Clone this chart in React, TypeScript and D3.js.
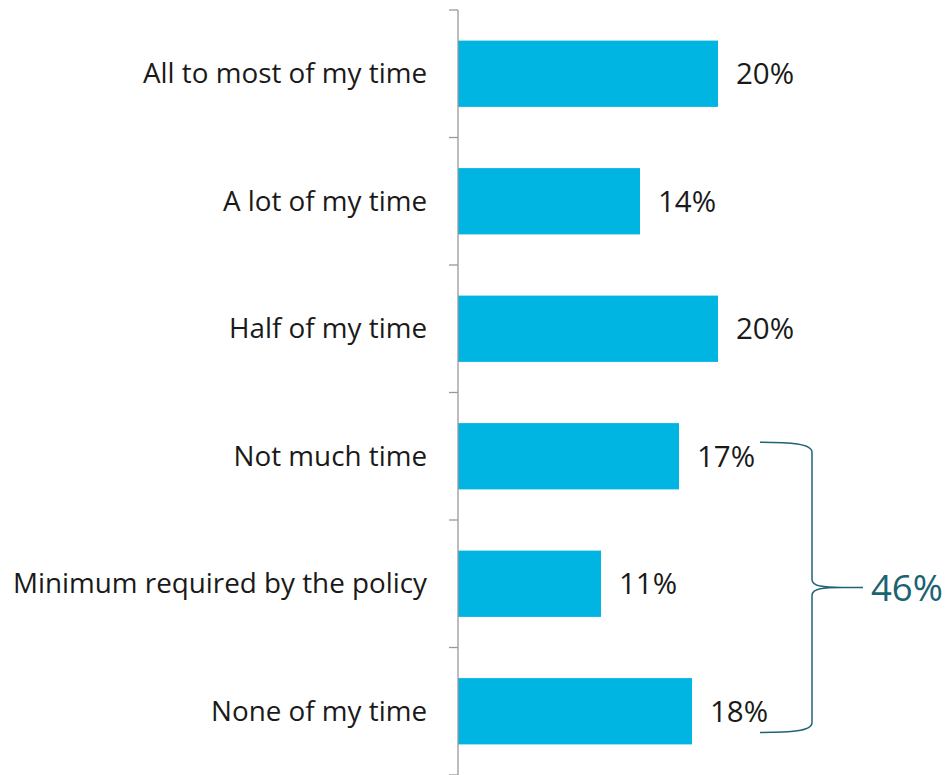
import React, { useEffect, useRef } from "react";
import * as d3 from "d3";

const categories = [
  "All to most of my time",
  "A lot of my time",
  "Half of my time",
  "Not much time",
  "Minimum required by the policy",
  "None of my time",
];
const values = [20, 14, 20, 17, 11, 18];
const bracketLabel = "46%";
const bracketFrom = "Not much time";
const bracketTo = "None of my time";

const App = () => {
  const svgRef = useRef(null);
  const width = 946;
  const height = 775;
  const axisX = 458;
  const font = "'Open Sans', sans-serif";

  useEffect(() => {
    const svgEl = d3.select(svgRef.current);
    svgEl.selectAll("*").remove();

    const data = categories.map((c, i) => ({ cat: c, value: values[i] }));

    const y = d3
      .scaleBand()
      .domain(categories)
      .range([10, 775])
      .paddingInner(0.48)
      .paddingOuter(0.24);

    // 13px per percentage point
    const x = d3.scaleLinear().domain([0, 20]).range([axisX, axisX + 260]);

    svgEl
      .append("g")
      .attr("fill", "#00B5E2")
      .selectAll("rect")
      .data(data)
      .join("rect")
      .attr("x", x(0))
      .attr("y", (d) => y(d.cat))
      .attr("width", (d) => x(d.value) - x(0))
      .attr("height", y.bandwidth());

    // axis line with ticks at band boundaries
    const step = y.step();
    const first = y(categories[0]) - (step - y.bandwidth()) / 2;
    const bounds = d3.range(categories.length + 1).map((i) => first + i * step);
    const axis = svgEl.append("g").attr("stroke", "#999").attr("stroke-width", 1.3);
    axis
      .append("line")
      .attr("x1", axisX)
      .attr("x2", axisX)
      .attr("y1", bounds[0])
      .attr("y2", height);
    axis
      .selectAll("line.tick")
      .data(bounds)
      .join("line")
      .attr("class", "tick")
      .attr("x1", axisX - 9)
      .attr("x2", axisX)
      .attr("y1", (d) => d)
      .attr("y2", (d) => d);

    svgEl
      .append("g")
      .attr("font-family", font)
      .attr("font-size", 27.8)
      .attr("fill", "#1a1a1a")
      .attr("text-anchor", "end")
      .selectAll("text")
      .data(data)
      .join("text")
      .attr("x", axisX - 31)
      .attr("y", (d) => y(d.cat) + y.bandwidth() / 2)
      .attr("dy", "0.35em")
      .text((d) => d.cat);

    svgEl
      .append("g")
      .attr("font-family", font)
      .attr("font-size", 29.5)
      .attr("fill", "#1a1a1a")
      .selectAll("text")
      .data(data)
      .join("text")
      .attr("x", (d) => x(d.value) + 18)
      .attr("y", (d) => y(d.cat) + y.bandwidth() / 2)
      .attr("dy", "0.35em")
      .text((d) => d.value + "%");

    // bracket
    const top = y(bracketFrom) + y.bandwidth() * 0.29;
    const bot = y(bracketTo) + y.bandwidth() * 0.82;
    const mid = (top + bot) / 2;
    const x0 = 760;
    const xb = 812;
    const xp = 863;
    const path = [
      `M${x0},${top}`,
      `C${x0 + 30},${top} ${xb},${top + 1} ${xb},${top + 10}`,
      `V${mid - 8}`,
      `C${xb},${mid - 1} ${xb + 12},${mid} ${xb + 30},${mid}`,
      `H${xp}`,
      `M${xb + 30},${mid}`,
      `C${xb + 12},${mid} ${xb},${mid + 1} ${xb},${mid + 8}`,
      `V${bot - 10}`,
      `C${xb},${bot - 1} ${x0 + 30},${bot} ${x0},${bot}`,
    ].join(" ");
    svgEl
      .append("path")
      .attr("d", path)
      .attr("fill", "none")
      .attr("stroke", "#1F6475")
      .attr("stroke-width", 1.5);

    svgEl
      .append("text")
      .attr("x", xp + 8)
      .attr("y", mid)
      .attr("dy", "0.36em")
      .attr("font-family", font)
      .attr("font-size", 36.5)
      .attr("fill", "#1B6272")
      .text(bracketLabel);
  }, []);

  return (
    <svg
      ref={svgRef}
      width={width}
      height={height}
      style={{ position: "absolute", left: 0, top: 0, background: "#fff" }}
    />
  );
};

export default App;
